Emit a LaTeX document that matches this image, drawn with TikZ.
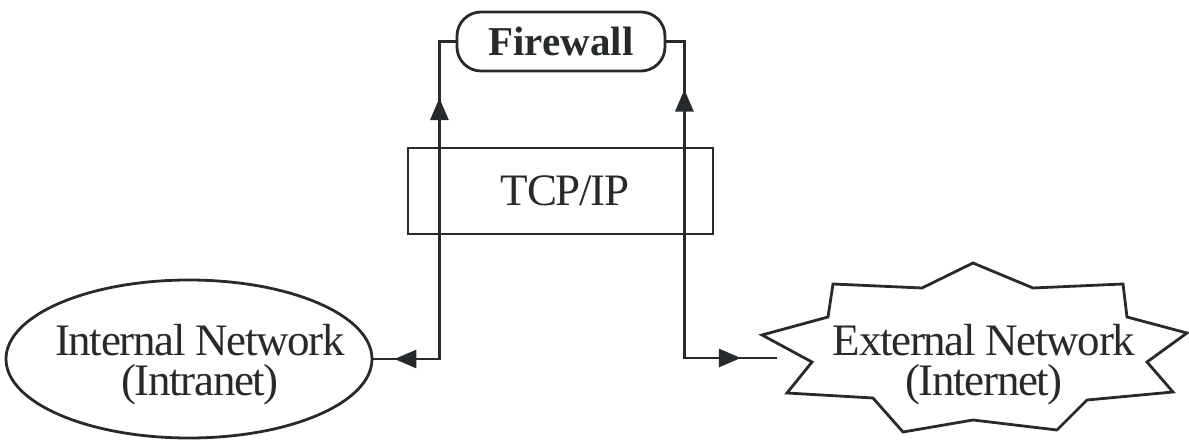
\documentclass[tikz,border=0pt]{standalone}
\usepackage{fontspec}
\setmainfont{Liberation Serif}
\newfontfamily\tightfont[LetterSpace=-3]{Liberation Serif}
\usetikzlibrary{shapes.geometric,arrows.meta,decorations.markings}
\definecolor{ink}{RGB}{38,42,44}
\begin{document}
\begin{tikzpicture}[x=1pt,y=-1pt,
  ln/.style={draw=ink,line width=2.8pt},
  txt/.style={text=ink,inner sep=0pt,font=\tightfont\fontsize{45}{40}\selectfont},
  ahead/.tip={Triangle[length=22pt,width=18pt]},
  boxst/.style={ln,rectangle,minimum width=305pt,minimum height=86pt,inner sep=0pt},
  fwst/.style={ln,rectangle,rounded corners=24pt,minimum width=208pt,minimum height=59pt,inner sep=0pt,text=ink,font=\bfseries\fontsize{41}{44}\selectfont},
  ellst/.style={ln,ellipse,minimum width=366pt,minimum height=158pt,inner sep=0pt}
]
\useasboundingbox (0,0) rectangle (1189,444);

% nodes
\node[fwst] (fw) at (561,41.5) {Firewall};
\node[boxst] (tcp) at (560.5,191) {};
\node[txt,anchor=base] (tcplbl) at (565,205) {TCP/IP};
\node[ellst] (int) at (189,359) {};
\node[txt,align=center,anchor=base] (intl) at (200,395) {Internal Network\\(Intranet)};

% star (External Network)
\draw[ln,line join=miter] (973,263) -- (1033,288) -- (1123,284) -- (1127,317) -- (1187,333)
  -- (1147,362) -- (1173,392) -- (1087,400) -- (1057,430) -- (973,420) -- (903,432)
  -- (873,398) -- (787,393) -- (812,362) -- (762,335) -- (828,317) -- (833,284)
  -- (922,288) -- cycle;
\node[txt,align=center,anchor=base] (extl) at (984,395) {External Network\\(Internet)};
\coordinate (ext) at (777,358);

% connectors
\draw[ln,decoration={markings,
    mark=at position 21pt with {\arrowreversed[ink]{ahead}},
    mark=at position 327pt with {\arrow[ink]{ahead}}},postaction={decorate}]
  (int.east) -- ++(66,0) |- (fw.west);
\draw[ln,decoration={markings,
    mark=at position 66pt with {\arrowreversed[ink]{ahead}},
    mark=at position 391pt with {\arrow[ink]{ahead}}},postaction={decorate}]
  (fw.east) -- ++(18,0) |- (ext);
\end{tikzpicture}
\end{document}
